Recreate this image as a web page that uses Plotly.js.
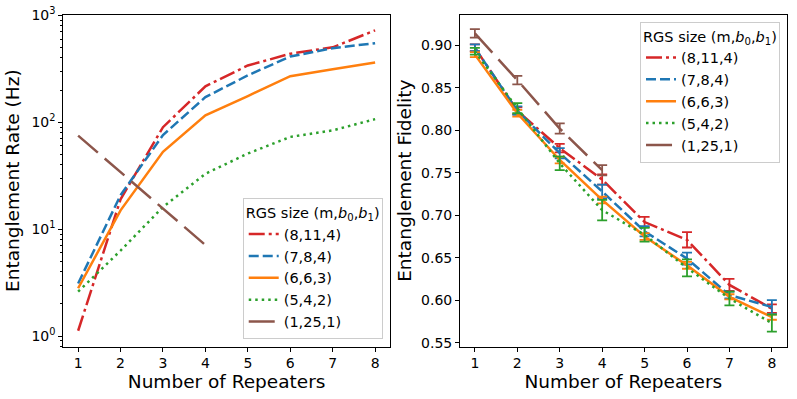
<!DOCTYPE html>
<html>
<head>
<meta charset="utf-8">
<script src="https://cdn.plot.ly/plotly-3.0.1.min.js"></script>
<style>html,body{margin:0;padding:0;background:#fff;}#chart{width:797px;height:399px;}</style>
</head>
<body>
<div id="chart"></div>
<script>
// ---- data ----
const repeaters = [1, 2, 3, 4, 5, 6, 7, 8];
const repeatersShort = [1, 2, 3, 4];
const seriesNames = ["(8,11,4)", "(7,8,4)", "(6,6,3)", "(5,4,2)", "(1,25,1)"];

const rate_8_11_4 = [1.12, 19, 90, 217, 340, 438, 503, 725];
const rate_7_8_4  = [3.1, 20.8, 76, 172, 275, 413, 494, 550];
const rate_6_6_3  = [2.8, 15, 53, 116, 176, 270, 313, 362];
const rate_5_4_2  = [2.6, 6.3, 16.1, 33, 51, 73, 84, 107];
const rate_1_25_1 = [75, 34, 15.6, 7.1];

const fid_8_11_4 = [0.897, 0.823, 0.779, 0.742, 0.692, 0.671, 0.618, 0.590];
const fid_7_8_4  = [0.897, 0.823, 0.773, 0.728, 0.681, 0.649, 0.606, 0.592];
const fid_6_6_3  = [0.889, 0.820, 0.765, 0.718, 0.675, 0.641, 0.604, 0.580];
const fid_5_4_2  = [0.893, 0.826, 0.761, 0.706, 0.677, 0.638, 0.602, 0.573];
const fid_1_25_1 = [0.914, 0.859, 0.802, 0.753];

const err_8_11_4 = [0.004, 0.004, 0.005, 0.006, 0.006, 0.009, 0.007, 0.005];
const err_7_8_4  = [0.004, 0.005, 0.006, 0.008, 0.006, 0.007, 0.004, 0.008];
const err_6_6_3  = [0.003, 0.004, 0.004, 0.004, 0.004, 0.004, 0.003, 0.003];
const err_5_4_2  = [0.004, 0.006, 0.008, 0.012, 0.008, 0.010, 0.008, 0.010];
const err_1_25_1 = [0.005, 0.005, 0.006, 0.006];

const rateTickVals = [1, 10, 100, 1000];
const rateTickText = ["10<sup>0</sup>", "10<sup>1</sup>", "10<sup>2</sup>", "10<sup>3</sup>"];

// ---- styles ----
const colors = ["#d62728", "#1f77b4", "#ff7f0e", "#2ca02c", "#8c564b"];
const dashes = ["16px,4px,3px,4px", "10px,4px", "solid", "2.5px,4px", "26px,9px"];
const LW = 2.5;
const FONT = "DejaVu Sans, sans-serif";

const rateData = [rate_8_11_4, rate_7_8_4, rate_6_6_3, rate_5_4_2, rate_1_25_1];
const fidData = [fid_8_11_4, fid_7_8_4, fid_6_6_3, fid_5_4_2, fid_1_25_1];
const errData = [err_8_11_4, err_7_8_4, err_6_6_3, err_5_4_2, err_1_25_1];

const traces = [];
for (let i = 0; i < 5; i++) {
  const xs = i === 4 ? repeatersShort : repeaters;
  traces.push({
    x: xs, y: rateData[i], name: seriesNames[i], type: "scatter", mode: "lines",
    xaxis: "x", yaxis: "y", legend: "legend",
    line: {color: colors[i], width: LW, dash: dashes[i]}
  });
}
for (let i = 0; i < 5; i++) {
  const xs = i === 4 ? repeatersShort : repeaters;
  traces.push({
    x: xs, y: fidData[i], name: seriesNames[i], type: "scatter", mode: "lines",
    xaxis: "x2", yaxis: "y2", legend: "legend2",
    line: {color: colors[i], width: LW, dash: dashes[i]},
    error_y: {type: "data", array: errData[i], visible: true, color: colors[i], thickness: 1.8, width: 5}
  });
}

const axisCommon = {
  showline: true, linecolor: "#000", linewidth: 1, mirror: true,
  ticks: "outside", ticklen: 4, tickwidth: 1, tickcolor: "#000",
  showgrid: false, zeroline: false,
  tickfont: {family: FONT, size: 14, color: "#000"}
};

const TITLE_SIZE = 18.5;
const LEG_SIZE = 14.5;

const legendCommon = {
  bgcolor: "rgba(255,255,255,0.8)", bordercolor: "#cccccc", borderwidth: 1,
  font: {family: FONT, size: LEG_SIZE, color: "#000"},
  title: {text: "RGS size (m,<i>b</i><sub>0</sub>,<i>b</i><sub>1</sub>)", font: {family: FONT, size: LEG_SIZE, color: "#000"}},
  tracegroupgap: 0
};

const layout = {
  width: 797, height: 399,
  margin: {l: 0, r: 0, t: 0, b: 0},
  paper_bgcolor: "#fff", plot_bgcolor: "#fff",
  font: {family: FONT, color: "#000"},
  xaxis: Object.assign({}, axisCommon, {
    domain: [0.0794, 0.4893], range: [0.65, 8.35], dtick: 1, tick0: 1, anchor: "y",
    title: {text: "Number of Repeaters", font: {family: FONT, size: TITLE_SIZE}, standoff: 2}
  }),
  yaxis: Object.assign({}, axisCommon, {
    domain: [0.1311, 0.9632], type: "log", range: [-0.1, 3.007], anchor: "x",
    tickvals: rateTickVals, ticktext: rateTickText,
    minor: {ticks: "outside", ticklen: 2, tickwidth: 1, tickcolor: "#000", dtick: "D1", showgrid: false},
    title: {text: "Entanglement Rate (Hz)", font: {family: FONT, size: TITLE_SIZE}, standoff: 6}
  }),
  xaxis2: Object.assign({}, axisCommon, {
    domain: [0.5772, 0.9871], range: [0.65, 8.35], dtick: 1, tick0: 1, anchor: "y2",
    title: {text: "Number of Repeaters", font: {family: FONT, size: TITLE_SIZE}, standoff: 2}
  }),
  yaxis2: Object.assign({}, axisCommon, {
    domain: [0.1311, 0.9632], range: [0.5453, 0.936], anchor: "x2",
    dtick: 0.05, tick0: 0.55, tickformat: ".2f",
    title: {text: "Entanglement Fidelity", font: {family: FONT, size: TITLE_SIZE}, standoff: 4}
  }),
  legend: Object.assign({}, legendCommon, {x: 0.4802, y: 0.1496, xanchor: "right", yanchor: "bottom"}),
  legend2: Object.assign({}, legendCommon, {x: 0.9787, y: 0.9456, xanchor: "right", yanchor: "top"}),
  showlegend: true
};

Plotly.newPlot("chart", traces, layout, {displayModeBar: false, staticPlot: true});
</script>
</body>
</html>
